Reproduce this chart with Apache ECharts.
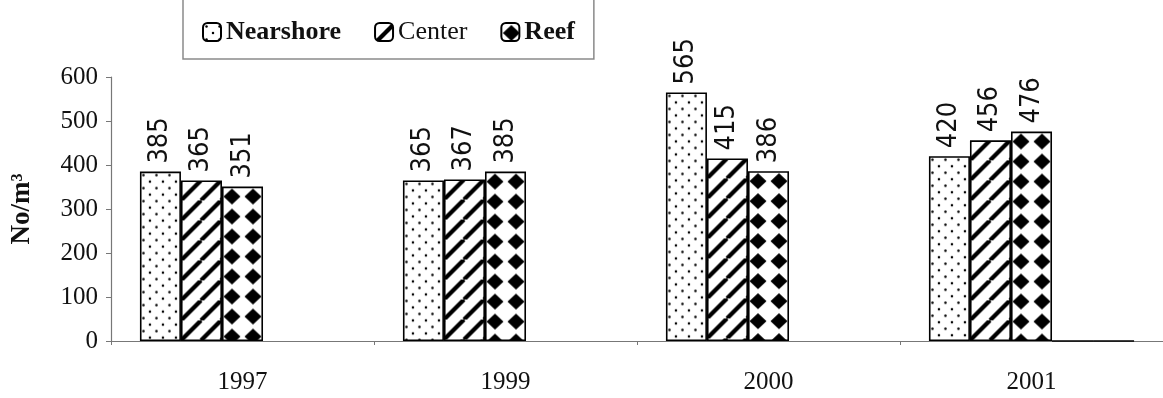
<!DOCTYPE html>
<html>
<head>
<meta charset="utf-8">
<script src="https://cdn.jsdelivr.net/npm/echarts@6/dist/echarts.min.js"></script>
<style>
html,body{margin:0;padding:0;background:#fff;}
#chart{width:1163px;height:398px;}
</style>
</head>
<body>
<div id="chart"></div>
<script>
// ---- data ----
var categories = ['1997', '1999', '2000', '2001'];
var nearshore = [385, 365, 565, 420];
var center = [365, 367, 415, 456];
var reef = [351, 385, 386, 476];
var emptyA = [null, null, null, 0];
var emptyB = [null, null, null, 0];
var yTicks = [0, 100, 200, 300, 400, 500, 600];

// ---- patterns ----
function tile(w, h, draw) {
  var c = document.createElement('canvas');
  c.width = w; c.height = h;
  var ctx = c.getContext('2d');
  ctx.fillStyle = '#fff';
  ctx.fillRect(0, 0, w, h);
  ctx.fillStyle = '#000';
  ctx.strokeStyle = '#000';
  draw(ctx, w, h);
  return c;
}
var dots = tile(13, 13, function (ctx) {
  [[3.5, 3.5], [10, 10]].forEach(function (p) {
    ctx.beginPath(); ctx.arc(p[0], p[1], 1.25, 0, Math.PI * 2); ctx.fill();
  });
});
var stripes = tile(20, 20, function (ctx) {
  ctx.lineWidth = 4.2;
  [-20, 0, 20, 40].forEach(function (k) {
    ctx.beginPath(); ctx.moveTo(k - 20, 20); ctx.lineTo(k, 0); ctx.stroke();
  });
});
var diamonds = tile(21, 20, function (ctx) {
  ctx.beginPath();
  ctx.moveTo(10, 2); ctx.lineTo(18.5, 10); ctx.lineTo(10, 18); ctx.lineTo(1.5, 10);
  ctx.closePath(); ctx.fill();
});
var fills = [dots, stripes, diamonds];
function pat(c, x, y) { return { image: c, repeat: 'repeat', x: x || 0, y: y || 0 }; }

var serif = '"Liberation Serif", "Times New Roman", serif';
var narrow = '"Liberation Sans Narrow", "Arial Narrow", "DejaVu Sans Condensed", sans-serif';

function barSeries(name, data, fill) {
  return {
    name: name,
    type: 'bar',
    data: data,
    barGap: '0%',
    barCategoryGap: '22%',
    itemStyle: { color: pat(fill), borderColor: '#000', borderWidth: 1.6 },
    label: {
      show: true,
      position: 'top',
      rotate: 90,
      align: 'left',
      verticalAlign: 'middle',
      distance: 8,
      fontFamily: narrow,
      fontSize: 27,
      color: '#111'
    },
    emphasis: { disabled: true }
  };
}
function emptySeries(name, data) {
  return {
    name: name,
    type: 'bar',
    data: data,
    barGap: '0%',
    barCategoryGap: '22%',
    itemStyle: { color: '#fff', borderColor: '#000', borderWidth: 1.6 },
    label: { show: false },
    emphasis: { disabled: true }
  };
}

var chart = echarts.init(document.getElementById('chart'), null, { renderer: 'canvas' });
chart.setOption({
  backgroundColor: '#fff',
  animation: false,
  legend: {
    left: 183,
    top: -6,
    padding: [25, 19, 14, 19],
    borderColor: '#8a8a8a',
    borderWidth: 1.5,
    itemWidth: 18,
    itemHeight: 18,
    itemGap: 33,
    itemTextGap: 6,
    textStyle: { fontFamily: serif, fontSize: 26, color: '#111' },
    data: [
      { name: 'Nearshore', textStyle: { fontWeight: 'bold' } },
      { name: 'Center', textStyle: { fontWeight: 'normal' } },
      { name: 'Reef', textStyle: { fontWeight: 'bold' } }
    ]
  },
  grid: { left: 111, right: -10, top: 77, bottom: 57, containLabel: false },
  xAxis: {
    type: 'category',
    data: categories,
    axisLine: { lineStyle: { color: '#777', width: 1.2 } },
    axisTick: { show: true, length: 4, lineStyle: { color: '#777' } },
    axisLabel: { fontFamily: serif, fontSize: 25, color: '#111', margin: 29 }
  },
  yAxis: {
    type: 'value',
    min: yTicks[0],
    max: yTicks[yTicks.length - 1],
    interval: 100,
    name: 'No/m³',
    nameLocation: 'middle',
    nameRotate: 90,
    nameGap: 75,
    nameTextStyle: { fontFamily: serif, fontSize: 27, fontWeight: 'bold', color: '#111' },
    axisLine: { show: true, lineStyle: { color: '#777', width: 1.2 } },
    axisTick: { show: true, length: 5, lineStyle: { color: '#777' } },
    splitLine: { show: false },
    axisLabel: { fontFamily: serif, fontSize: 25, color: '#111', margin: 13 }
  },
  series: [
    barSeries('Nearshore', nearshore, dots),
    barSeries('Center', center, stripes),
    barSeries('Reef', reef, diamonds),
    emptySeries('_a', emptyA),
    emptySeries('_b', emptyB)
  ]
});

// anchor each bar's fill pattern to its own top-left corner (as in the original)
var values = [nearshore, center, reef];
var model = chart.getModel();
var upd = [];
for (var s = 0; s < 3; s++) {
  var d = model.getSeriesByIndex(s).getData();
  var items = values[s].map(function (v, i) {
    var L = d.getItemLayout(i);
    var top = Math.min(L.y, L.y + L.height);
    var left = Math.min(L.x, L.x + L.width);
    return { value: v, itemStyle: { color: pat(fills[s], left, top) } };
  });
  upd.push({ data: items });
}
chart.setOption({ series: upd });
</script>
</body>
</html>
